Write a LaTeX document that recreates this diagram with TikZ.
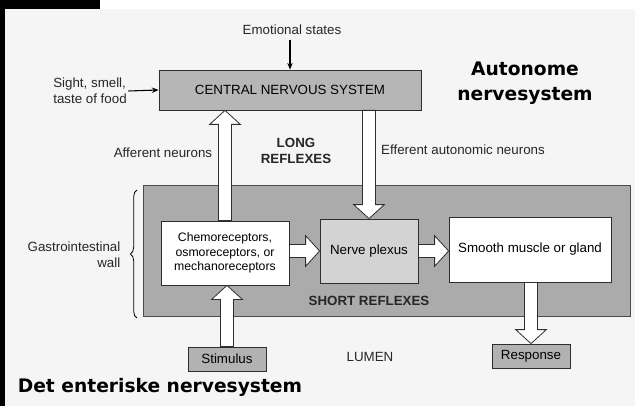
\documentclass[tikz,border=0pt]{standalone}
\usepackage{fontspec}
\setmainfont{Liberation Sans}
\newfontfamily\slidefont{DejaVu Sans}
\usepackage{tikz}
\usetikzlibrary{arrows.meta,positioning,calc,decorations.pathreplacing}
\definecolor{paper}{HTML}{F5F5F5}
\definecolor{wallgray}{HTML}{ABABAB}
\definecolor{cnsgray}{HTML}{B6B6B6}
\definecolor{plexusgray}{HTML}{D3D3D3}
\definecolor{tabgray}{HTML}{B2B2B2}
\definecolor{inkgray}{HTML}{2E2E2E}

% hollow block arrow from #1 to #2 (tip at #2)
\newcommand{\hollowarrow}[2]{%
  \coordinate (hb) at ($(#2)!10.5pt!(#1)$);
  \filldraw[hollowtip] ($(#1)!4.9pt!90:(#2)$) -- ($(hb)!4.9pt!90:(#2)$)
    -- ($(hb)!11.5pt!90:(#2)$) -- (#2) -- ($(hb)!11.5pt!-90:(#2)$)
    -- ($(hb)!4.9pt!-90:(#2)$) -- ($(#1)!4.9pt!-90:(#2)$) -- cycle;
}

\begin{document}
\begin{tikzpicture}[
  x=0.75pt, y=-0.75pt,
  font=\fontsize{10}{12}\selectfont,
  >={Stealth[length=5pt,width=4pt]},
  blockbox/.style={
    draw=inkgray,
    line width=0.6pt,
    align=center,
    inner sep=2pt
  },
  hollowtip/.style={
    draw=inkgray,
    fill=white,
    line width=0.6pt,
    line join=miter
  },
  thinarrow/.style={
    ->,
    line width=0.8pt,
    draw=black
  },
  label/.style={
    align=center,
    text=black!85
  },
  reflexlabel/.style={
    align=center,
    text=black!85,
    font=\bfseries\fontsize{10}{11.5}\selectfont
  },
  slidetitle/.style={
    font=\slidefont\bfseries\fontsize{14}{19}\selectfont,
    align=center
  }
]
  \useasboundingbox (0,0) rectangle (635,406);

  % -------------------------------------------------------------
  % SCANNED PAGE
  % -------------------------------------------------------------
  \fill[paper] (5,9) rectangle (635,406);
  \fill[black] (0,0) rectangle (100,9);
  \fill[black] (0,0) rectangle (5,406);

  % -------------------------------------------------------------
  % CENTRAL NERVOUS SYSTEM
  % -------------------------------------------------------------
  \node[blockbox, fill=cnsgray, minimum width=196.5pt, minimum height=30pt] (cns) at (290,90) {CENTRAL NERVOUS SYSTEM};

  \node[label] (emo) at (292,30) {Emotional states};
  \node[label, align=left, inner sep=1pt] (sight) at (90,91) {Sight, smell,\\taste of food};

  \draw[thinarrow] (emo.south -| cns.north) -- (cns.north);
  \draw[thinarrow] (sight.east) -- (cns.west);

  \node[label] (afftext) at (163,153) {Afferent neurons};
  \node[reflexlabel] (longref) at (296,151) {LONG\\REFLEXES};
  \node[label] (efftext) at (463,150) {Efferent autonomic neurons};

  % -------------------------------------------------------------
  % GASTROINTESTINAL WALL
  % -------------------------------------------------------------
  \node[draw=black!70, fill=wallgray, line width=0.6pt, minimum width=365.25pt,
    minimum height=98.25pt, inner sep=0pt] (wall) at (386.5,250.5) {};

  \coordinate (braceTop) at (137,190);
  \coordinate (braceBot) at (137,318);
  \draw[line width=0.6pt, decorate, decoration={brace, amplitude=5pt}] (braceBot) -- (braceTop);
  \node[label, align=right] (walltext) at (74,255) {Gastrointestinal\\wall};

  \node[blockbox, fill=white, minimum width=96pt, minimum height=48pt,
    font=\fontsize{9.2}{11}\selectfont] (rec) at (225,253)
    {Chemoreceptors,\\osmoreceptors, or\\mechanoreceptors};
  \node[blockbox, fill=plexusgray, minimum width=73.5pt, minimum height=48pt] (plexus) at (369,251) {Nerve plexus};
  \node[blockbox, fill=white, minimum width=121.5pt, minimum height=48.75pt] (muscle) at (530,249.5) {Smooth muscle or gland};

  \node[reflexlabel] (shortref) at (369,301) {SHORT REFLEXES};

  % -------------------------------------------------------------
  % LUMEN
  % -------------------------------------------------------------
  \node[blockbox, fill=tabgray, minimum width=58.5pt, minimum height=18pt] (stim) at (227,359) {Stimulus};
  \node[blockbox, fill=tabgray, minimum width=58.5pt, minimum height=18pt] (resp) at (531,356) {Response};
  \node[label] (lumen) at (370,357) {LUMEN};

  % -------------------------------------------------------------
  % BLOCK ARROWS
  % -------------------------------------------------------------
  \coordinate (affTop) at (cns.south -| rec.north);
  \coordinate (effTop) at (cns.south -| plexus.north);
  \coordinate (stimTop) at (rec.south -| stim.north);
  \coordinate (recOut) at (rec.east |- plexus.west);
  \coordinate (respTop) at (resp.north);
  \coordinate (muscleBot) at (muscle.south -| resp.north);

  \hollowarrow{rec.north}{affTop}
  \hollowarrow{effTop}{plexus.north}
  \hollowarrow{stim.north}{stimTop}
  \hollowarrow{recOut}{plexus.west}
  \hollowarrow{plexus.east}{muscle.west |- plexus.east}
  \hollowarrow{muscleBot}{respTop}

  % -------------------------------------------------------------
  % SLIDE TITLES
  % -------------------------------------------------------------
  \node[slidetitle] (auto) at (525,83) {Autonome\\nervesystem};
  \node[slidetitle] (enteric) at (160,387) {Det enteriske nervesystem};

\end{tikzpicture}
\end{document}
